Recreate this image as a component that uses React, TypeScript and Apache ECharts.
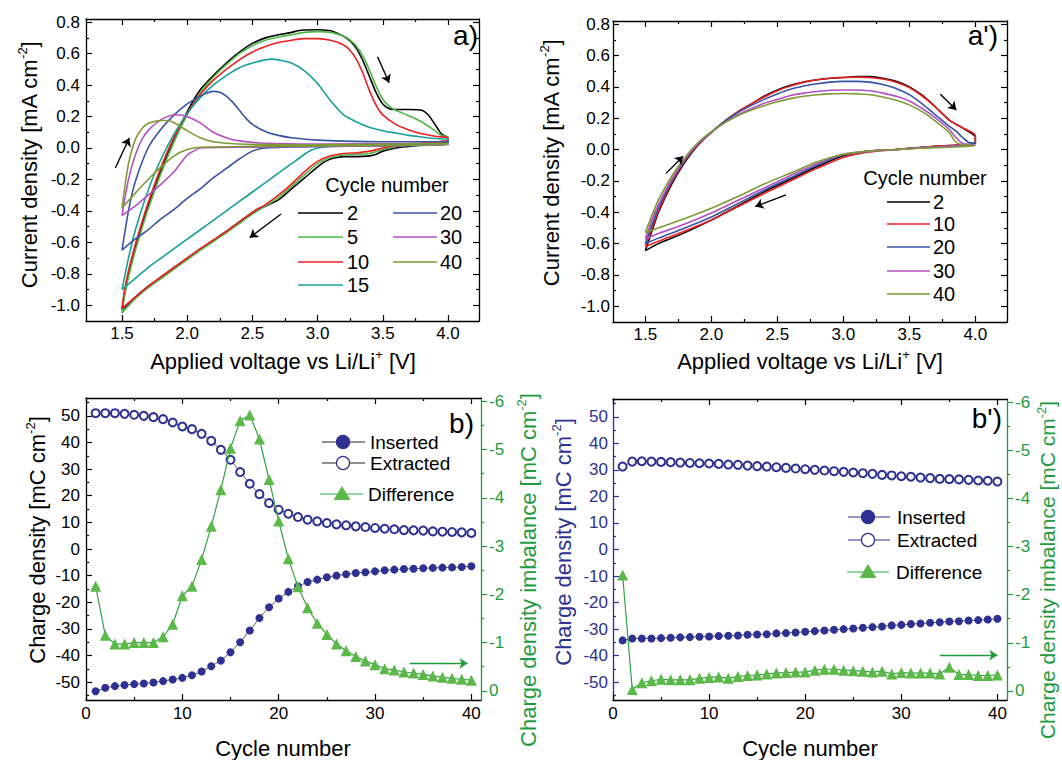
import { useEffect, useRef } from "react";
import * as echarts from "echarts";

const FONT = "'Liberation Sans', Arial, Helvetica, sans-serif";
const NAVY = "#2e3192";
const GREEN = "#5cb848";
const GREEN_AXIS = "#1f9b3d";

// ---------- a) cyclic voltammograms: [voltage V vs Li/Li+, current density mA cm^-2] ----------
const cvA2: number[][] = [
  [1.5, -1.03], [1.52, -0.92], [1.55, -0.8], [1.6, -0.64], [1.65, -0.5], [1.7, -0.37], [1.8, -0.14], [1.9, 0.06],
  [2.0, 0.23], [2.1, 0.37], [2.2, 0.46], [2.3, 0.54], [2.4, 0.61], [2.5, 0.665], [2.6, 0.7], [2.7, 0.72],
  [2.8, 0.735], [2.85, 0.745], [2.9, 0.75], [3.0, 0.752], [3.1, 0.745], [3.15, 0.73], [3.2, 0.71], [3.25, 0.68],
  [3.3, 0.63], [3.35, 0.55], [3.4, 0.45], [3.45, 0.35], [3.5, 0.28], [3.55, 0.25], [3.6, 0.245], [3.7, 0.245],
  [3.8, 0.24], [3.85, 0.21], [3.9, 0.15], [3.95, 0.09], [4.0, 0.06],
  [4.0, 0.04], [3.9, 0.03], [3.8, 0.02], [3.7, 0.01], [3.6, 0.0], [3.5, -0.02], [3.45, -0.04], [3.4, -0.05],
  [3.3, -0.055], [3.2, -0.055], [3.15, -0.06], [3.1, -0.07], [3.05, -0.09], [3.0, -0.12], [2.9, -0.19], [2.8, -0.26],
  [2.7, -0.33], [2.6, -0.37], [2.55, -0.385], [2.5, -0.41], [2.4, -0.47], [2.3, -0.53], [2.2, -0.59], [2.1, -0.645],
  [2.0, -0.7], [1.9, -0.76], [1.8, -0.82], [1.7, -0.88], [1.6, -0.95], [1.5, -1.03],
];
const cvA5: number[][] = [
  [1.5, -1.05], [1.52, -0.94], [1.55, -0.82], [1.6, -0.66], [1.65, -0.52], [1.7, -0.39], [1.8, -0.16], [1.9, 0.04],
  [2.0, 0.21], [2.1, 0.35], [2.2, 0.45], [2.3, 0.53], [2.4, 0.6], [2.5, 0.65], [2.6, 0.685], [2.7, 0.705],
  [2.8, 0.72], [2.9, 0.735], [3.0, 0.74], [3.1, 0.735], [3.2, 0.71], [3.25, 0.685], [3.3, 0.645], [3.35, 0.58],
  [3.4, 0.49], [3.45, 0.39], [3.5, 0.31], [3.55, 0.265], [3.6, 0.24], [3.7, 0.205], [3.8, 0.165], [3.9, 0.11],
  [3.95, 0.08], [4.0, 0.07],
  [4.0, 0.05], [3.8, 0.03], [3.6, 0.01], [3.5, -0.01], [3.4, -0.035], [3.3, -0.04], [3.2, -0.045], [3.1, -0.06],
  [3.0, -0.1], [2.9, -0.17], [2.8, -0.245], [2.7, -0.315], [2.6, -0.37], [2.5, -0.42], [2.4, -0.48], [2.3, -0.54],
  [2.2, -0.595], [2.1, -0.65], [2.0, -0.71], [1.9, -0.77], [1.8, -0.83], [1.7, -0.89], [1.6, -0.96], [1.5, -1.05],
];
const cvA10: number[][] = [
  [1.5, -1.02], [1.52, -0.9], [1.55, -0.78], [1.6, -0.62], [1.65, -0.48], [1.7, -0.35], [1.8, -0.12], [1.9, 0.07],
  [2.0, 0.22], [2.1, 0.34], [2.2, 0.43], [2.3, 0.5], [2.4, 0.56], [2.5, 0.61], [2.6, 0.645], [2.7, 0.67],
  [2.8, 0.685], [2.9, 0.695], [3.0, 0.695], [3.1, 0.685], [3.2, 0.655], [3.25, 0.62], [3.3, 0.56], [3.35, 0.47],
  [3.4, 0.36], [3.45, 0.27], [3.5, 0.21], [3.6, 0.15], [3.7, 0.115], [3.8, 0.09], [3.9, 0.075], [4.0, 0.065],
  [4.0, 0.05], [3.8, 0.03], [3.6, 0.015], [3.5, 0.0], [3.4, -0.02], [3.3, -0.03], [3.2, -0.035], [3.1, -0.05],
  [3.0, -0.085], [2.9, -0.15], [2.8, -0.23], [2.7, -0.3], [2.6, -0.36], [2.5, -0.41], [2.4, -0.47], [2.3, -0.53],
  [2.2, -0.585], [2.1, -0.64], [2.0, -0.7], [1.9, -0.76], [1.8, -0.82], [1.7, -0.88], [1.6, -0.95], [1.5, -1.02],
];
const cvA15: number[][] = [
  [1.5, -0.9], [1.55, -0.7], [1.6, -0.53], [1.7, -0.27], [1.8, -0.07], [1.9, 0.09], [2.0, 0.22], [2.1, 0.32],
  [2.2, 0.4], [2.3, 0.46], [2.4, 0.51], [2.5, 0.54], [2.6, 0.56], [2.65, 0.565], [2.7, 0.56], [2.8, 0.54],
  [2.9, 0.49], [3.0, 0.41], [3.1, 0.3], [3.2, 0.21], [3.3, 0.165], [3.4, 0.13], [3.5, 0.11], [3.6, 0.095],
  [3.7, 0.08], [3.8, 0.07], [3.9, 0.06], [4.0, 0.055],
  [4.0, 0.03], [3.5, 0.02], [3.1, 0.01], [3.0, 0.0], [2.95, -0.015], [2.9, -0.04], [2.8, -0.1], [2.7, -0.16],
  [2.6, -0.22], [2.5, -0.28], [2.4, -0.34], [2.3, -0.4], [2.2, -0.46], [2.1, -0.52], [2.0, -0.58], [1.9, -0.64],
  [1.8, -0.7], [1.7, -0.76], [1.6, -0.83], [1.5, -0.9],
];
const cvA20: number[][] = [
  [1.5, -0.65], [1.55, -0.4], [1.6, -0.22], [1.7, 0.0], [1.8, 0.12], [1.9, 0.21], [2.0, 0.28], [2.1, 0.33],
  [2.15, 0.35], [2.2, 0.36], [2.25, 0.355], [2.3, 0.33], [2.35, 0.29], [2.4, 0.24], [2.45, 0.19], [2.5, 0.15],
  [2.6, 0.105], [2.7, 0.08], [2.8, 0.065], [3.0, 0.05], [3.5, 0.04], [4.0, 0.04],
  [4.0, 0.02], [3.0, 0.01], [2.6, 0.0], [2.5, -0.02], [2.4, -0.07], [2.3, -0.13], [2.2, -0.19], [2.1, -0.26],
  [2.0, -0.32], [1.9, -0.39], [1.8, -0.45], [1.7, -0.52], [1.6, -0.58], [1.5, -0.65],
];
const cvA30: number[][] = [
  [1.5, -0.43], [1.55, -0.2], [1.6, -0.05], [1.65, 0.05], [1.7, 0.11], [1.8, 0.18], [1.9, 0.21], [1.95, 0.21],
  [2.0, 0.2], [2.1, 0.16], [2.2, 0.1], [2.3, 0.065], [2.4, 0.045], [2.6, 0.03], [3.0, 0.025], [4.0, 0.03],
  [4.0, 0.02], [2.5, 0.005], [2.1, 0.0], [2.05, -0.02], [2.0, -0.045], [1.9, -0.15], [1.8, -0.23], [1.7, -0.3],
  [1.6, -0.37], [1.5, -0.43],
];
const cvA40: number[][] = [
  [1.5, -0.38], [1.55, -0.1], [1.6, 0.05], [1.65, 0.12], [1.7, 0.155], [1.8, 0.175], [1.85, 0.175], [1.9, 0.16],
  [2.0, 0.11], [2.1, 0.065], [2.2, 0.04], [2.4, 0.025], [3.0, 0.02], [4.0, 0.03],
  [4.0, 0.02], [2.5, 0.01], [2.1, 0.005], [2.0, -0.01], [1.9, -0.05], [1.8, -0.12], [1.7, -0.2], [1.6, -0.29],
  [1.5, -0.38],
];

// ---------- a') cyclic voltammograms ----------
const cvB2: number[][] = [
  [1.5, -0.645], [1.55, -0.52], [1.6, -0.4], [1.7, -0.22], [1.8, -0.08], [1.9, 0.03], [2.0, 0.11], [2.1, 0.18],
  [2.2, 0.24], [2.3, 0.29], [2.4, 0.34], [2.5, 0.38], [2.6, 0.41], [2.7, 0.43], [2.8, 0.445], [2.9, 0.455],
  [3.0, 0.46], [3.1, 0.465], [3.2, 0.465], [3.3, 0.455], [3.4, 0.435], [3.5, 0.4], [3.6, 0.345], [3.7, 0.27],
  [3.8, 0.19], [3.9, 0.14], [3.95, 0.115], [4.0, 0.08],
  [4.0, 0.04], [3.9, 0.03], [3.8, 0.025], [3.6, 0.015], [3.4, 0.0], [3.2, -0.01], [3.0, -0.04], [2.8, -0.11],
  [2.6, -0.19], [2.4, -0.27], [2.2, -0.36], [2.0, -0.45], [1.8, -0.53], [1.6, -0.6], [1.5, -0.645],
];
const cvB10: number[][] = [
  [1.5, -0.62], [1.55, -0.5], [1.6, -0.39], [1.7, -0.21], [1.8, -0.07], [1.9, 0.03], [2.0, 0.11], [2.1, 0.18],
  [2.2, 0.24], [2.3, 0.29], [2.4, 0.335], [2.5, 0.375], [2.6, 0.405], [2.7, 0.43], [2.8, 0.445], [2.9, 0.455],
  [3.0, 0.46], [3.1, 0.462], [3.2, 0.46], [3.3, 0.45], [3.4, 0.43], [3.5, 0.395], [3.6, 0.34], [3.7, 0.27],
  [3.8, 0.19], [3.9, 0.14], [3.95, 0.12], [4.0, 0.09],
  [4.0, 0.04], [3.9, 0.03], [3.6, 0.015], [3.4, 0.0], [3.2, -0.015], [3.0, -0.05], [2.8, -0.12], [2.6, -0.2],
  [2.4, -0.28], [2.2, -0.365], [2.0, -0.45], [1.8, -0.52], [1.6, -0.585], [1.5, -0.62],
];
const cvB20: number[][] = [
  [1.5, -0.6], [1.55, -0.48], [1.6, -0.37], [1.7, -0.2], [1.8, -0.065], [1.9, 0.035], [2.0, 0.11], [2.1, 0.18],
  [2.2, 0.235], [2.3, 0.28], [2.4, 0.32], [2.5, 0.355], [2.6, 0.385], [2.7, 0.405], [2.8, 0.42], [2.9, 0.43],
  [3.0, 0.435], [3.1, 0.435], [3.2, 0.43], [3.3, 0.415], [3.4, 0.39], [3.5, 0.35], [3.6, 0.29], [3.7, 0.22],
  [3.8, 0.15], [3.85, 0.12], [3.9, 0.08], [3.95, 0.045], [4.0, 0.04],
  [3.8, 0.02], [3.6, 0.012], [3.4, 0.0], [3.2, -0.01], [3.0, -0.035], [2.8, -0.1], [2.6, -0.18], [2.4, -0.26],
  [2.2, -0.345], [2.0, -0.43], [1.8, -0.5], [1.6, -0.565], [1.5, -0.6],
];
const cvB30: number[][] = [
  [1.5, -0.57], [1.55, -0.45], [1.6, -0.35], [1.7, -0.19], [1.8, -0.06], [1.9, 0.04], [2.0, 0.11], [2.1, 0.17],
  [2.2, 0.22], [2.3, 0.26], [2.4, 0.295], [2.5, 0.32], [2.6, 0.345], [2.7, 0.36], [2.8, 0.37], [2.9, 0.378],
  [3.0, 0.38], [3.1, 0.38], [3.2, 0.375], [3.3, 0.36], [3.4, 0.34], [3.5, 0.31], [3.6, 0.26], [3.7, 0.2],
  [3.8, 0.13], [3.85, 0.08], [3.9, 0.04], [3.95, 0.03], [4.0, 0.03],
  [3.8, 0.02], [3.6, 0.012], [3.4, 0.0], [3.2, -0.01], [3.0, -0.03], [2.8, -0.09], [2.6, -0.165], [2.4, -0.245],
  [2.2, -0.325], [2.0, -0.405], [1.8, -0.475], [1.6, -0.535], [1.5, -0.57],
];
const cvB40: number[][] = [
  [1.5, -0.53], [1.55, -0.42], [1.6, -0.32], [1.7, -0.17], [1.8, -0.05], [1.9, 0.045], [2.0, 0.115], [2.1, 0.17],
  [2.2, 0.215], [2.3, 0.25], [2.4, 0.28], [2.5, 0.305], [2.6, 0.325], [2.7, 0.34], [2.8, 0.35], [2.9, 0.355],
  [3.0, 0.358], [3.1, 0.355], [3.2, 0.35], [3.3, 0.335], [3.4, 0.315], [3.5, 0.285], [3.6, 0.24], [3.7, 0.18],
  [3.8, 0.11], [3.85, 0.05], [3.9, 0.03], [4.0, 0.025],
  [3.8, 0.015], [3.6, 0.01], [3.4, 0.0], [3.2, -0.01], [3.0, -0.03], [2.8, -0.08], [2.6, -0.15], [2.4, -0.22],
  [2.2, -0.3], [2.0, -0.375], [1.8, -0.44], [1.6, -0.5], [1.5, -0.53],
];

// ---------- b), b') charge per cycle ----------
const cycles = [
  1, 2, 3, 4, 5, 6, 7, 8, 9, 10, 11, 12, 13, 14, 15, 16, 17, 18, 19, 20,
  21, 22, 23, 24, 25, 26, 27, 28, 29, 30, 31, 32, 33, 34, 35, 36, 37, 38, 39, 40,
];
const insertedB = [
  -53.4, -52.1, -51.5, -51.1, -50.75, -50.5, -50.1, -49.6, -49, -48.4, -47.4, -46, -44, -41.9, -38.75, -35, -30.6, -25.9, -21.9, -18.6,
  -16.1, -14, -12.4, -11.5, -10.6, -10, -9.5, -9, -8.75, -8.4, -8, -7.75, -7.5, -7.4, -7.25, -7.1, -7, -6.9, -6.75, -6.5,
];
const extractedB = [
  51, 51, 51, 50.75, 50.4, 50, 49.5, 48.75, 47.5, 46, 45, 43.25, 40.6, 37.25, 33.5, 28.9, 24.5, 20.6, 17.25, 14.75,
  13.25, 12, 11, 10.4, 9.75, 9.25, 8.9, 8.5, 8.25, 7.9, 7.6, 7.4, 7.1, 7, 6.9, 6.6, 6.5, 6.4, 6.25, 6,
];
const differenceB = [
  -2.17, -1.15, -0.97, -0.97, -1.0, -1.0, -1.0, -1.12, -1.38, -1.97, -2.17, -2.72, -3.41, -4.17, -5.03, -5.6, -5.72, -5.22, -4.38, -3.52,
  -2.74, -2.16, -1.72, -1.4, -1.17, -0.97, -0.83, -0.71, -0.62, -0.54, -0.46, -0.43, -0.39, -0.37, -0.34, -0.31, -0.28, -0.26, -0.24, -0.22,
];
const insertedB2 = [
  -34.25, -33.5, -33.5, -33.5, -33.4, -33.25, -33.1, -33, -32.9, -32.75, -32.6, -32.5, -32.4, -32.1, -32, -31.9, -31.6, -31.5, -31.25, -31,
  -30.75, -30.5, -30.25, -30, -29.75, -29.5, -29.25, -29, -28.6, -28.4, -28.1, -27.9, -27.6, -27.4, -27.1, -27, -26.75, -26.6, -26.4, -26.1,
];
const extractedB2 = [
  31.25, 33.1, 33.25, 33.1, 33, 32.9, 32.75, 32.6, 32.5, 32.4, 32.25, 32, 31.9, 31.6, 31.4, 31.25, 31, 30.75, 30.5, 30.25,
  30, 29.75, 29.5, 29.25, 29, 28.75, 28.5, 28.1, 27.9, 27.6, 27.4, 27.1, 26.9, 26.6, 26.5, 26.4, 26.25, 26, 25.9, 25.6,
];
const differenceB2 = [
  -2.41, -0.03, -0.17, -0.21, -0.24, -0.23, -0.23, -0.23, -0.26, -0.28, -0.29, -0.26, -0.3, -0.32, -0.33, -0.35, -0.37, -0.38, -0.39, -0.39,
  -0.43, -0.45, -0.45, -0.43, -0.42, -0.41, -0.39, -0.41, -0.35, -0.38, -0.37, -0.37, -0.37, -0.35, -0.49, -0.34, -0.34, -0.32, -0.32, -0.33,
];

// ---------- tick values ----------
const voltTicks = [1.5, 2.0, 2.5, 3.0, 3.5, 4.0];
const voltMinor = [1.75, 2.25, 2.75, 3.25, 3.75];
const currentTicks = [-1.0, -0.8, -0.6, -0.4, -0.2, 0.0, 0.2, 0.4, 0.6, 0.8];
const currentMinor = [-0.9, -0.7, -0.5, -0.3, -0.1, 0.1, 0.3, 0.5, 0.7];
const cycleTicks = [0, 10, 20, 30, 40];
const cycleMinor = [5, 15, 25, 35];
const chargeTicks = [-50, -40, -30, -20, -10, 0, 10, 20, 30, 40, 50];
const chargeMinor = [-55, -45, -35, -25, -15, -5, 5, 15, 25, 35, 45, 55];
const imbalanceTicks = [-6, -5, -4, -3, -2, -1, 0];
const imbalanceMinor = [-5.5, -4.5, -3.5, -2.5, -1.5, -0.5];

// sweep-direction arrows, in data coordinates
const arrowsA = [
  [[1.449, -0.127], [1.556, 0.063]],
  [[3.46, 0.58], [3.549, 0.415]],
  [[2.72, -0.42], [2.48, -0.57]],
];
const arrowsA2 = [
  [[1.657, -0.152], [1.786, -0.042]],
  [[3.735, 0.353], [3.856, 0.253]],
  [[2.566, -0.289], [2.333, -0.363]],
];
const arrowB = [[33.6, -0.57], [39.6, -0.57]];
const arrowB2 = [[34.0, -0.745], [40.0, -0.745]];

type AxisOpt = {
  grid: number; min: number; max: number; position: string; values: number[];
  len: number; color: string; inside: boolean; line: boolean; labels?: boolean;
  fmt?: (v: number) => string; margin?: number; inverse?: boolean;
};

function makeAxis(o: AxisOpt) {
  return {
    type: "value",
    gridIndex: o.grid,
    min: o.min,
    max: o.max,
    position: o.position,
    inverse: !!o.inverse,
    splitLine: { show: false },
    minorTick: { show: false },
    axisLine: { show: o.line, onZero: false, lineStyle: { color: o.color, width: 1.3 } },
    axisTick: { show: true, inside: o.inside, length: o.len, customValues: o.values, lineStyle: { color: o.color, width: 1.2 } },
    axisLabel: o.labels
      ? { show: true, customValues: o.values, formatter: o.fmt, color: o.color, fontSize: 17, fontFamily: FONT, margin: o.margin ?? 6 }
      : { show: false },
  };
}

type Side = {
  min: number; max: number; majors: number[]; minors: number[]; color: string;
  labels: boolean; fmt?: (v: number) => string; margin?: number; inverse?: boolean; outside?: boolean;
};

function frame(xAxes: any[], yAxes: any[], grid: number, x: Side, yl: Side, yr: Side) {
  const push = (list: any[], a: any) => { list.push(a); return list.length - 1; };
  const xi = push(xAxes, makeAxis({ grid, min: x.min, max: x.max, position: "bottom", values: x.majors, len: 6, color: x.color, inside: true, line: true, labels: true, fmt: x.fmt, margin: x.margin }));
  push(xAxes, makeAxis({ grid, min: x.min, max: x.max, position: "bottom", values: x.minors, len: 3, color: x.color, inside: true, line: false }));
  push(xAxes, makeAxis({ grid, min: x.min, max: x.max, position: "top", values: x.majors, len: 6, color: "#000", inside: true, line: true }));
  push(xAxes, makeAxis({ grid, min: x.min, max: x.max, position: "top", values: x.minors, len: 3, color: "#000", inside: true, line: false }));
  const yli = push(yAxes, makeAxis({ grid, min: yl.min, max: yl.max, position: "left", values: yl.majors, len: 6, color: yl.color, inside: true, line: true, labels: true, fmt: yl.fmt, margin: yl.margin }));
  push(yAxes, makeAxis({ grid, min: yl.min, max: yl.max, position: "left", values: yl.minors, len: 3, color: yl.color, inside: true, line: false }));
  const yri = push(yAxes, makeAxis({ grid, min: yr.min, max: yr.max, position: "right", values: yr.majors, len: 6, color: yr.color, inside: !yr.outside, line: true, labels: yr.labels, fmt: yr.fmt, margin: yr.margin, inverse: yr.inverse }));
  push(yAxes, makeAxis({ grid, min: yr.min, max: yr.max, position: "right", values: yr.minors, len: 3, color: yr.color, inside: !yr.outside, line: false, inverse: yr.inverse }));
  return { x: xi, yl: yli, yr: yri };
}

const f1 = (v: number) => v.toFixed(1);
const f0 = (v: number) => String(Math.round(v));

function arrowMarks(list: number[][][], color: string) {
  return {
    silent: true,
    animation: false,
    symbol: ["none", "arrow"],
    symbolSize: 8,
    label: { show: false },
    emphasis: { disabled: true },
    lineStyle: { color, width: 1.4, type: "solid" },
    data: list.map(([a, b]) => [{ coord: a }, { coord: b }]),
  };
}

function cvSeries(ax: any, data: number[][], color: string, extra: any = {}) {
  return {
    type: "line", xAxisIndex: ax.x, yAxisIndex: ax.yl, data, symbol: "none", smooth: 0.25,
    lineStyle: { color, width: 1.6 }, silent: true, ...extra,
  };
}

function richTitle(x: number, y: number, main: string, sup: string, tail: string, color: string, vertical: boolean, size = 22) {
  return {
    type: "text", x, y, rotation: vertical ? Math.PI / 2 : 0, z: 100, silent: true,
    style: {
      text: `{n|${main}}{s|${sup}}{n|${tail}}`,
      align: "center", verticalAlign: "middle",
      rich: {
        n: { fontSize: size, fontFamily: FONT, fill: color, lineHeight: size + 4 },
        s: { fontSize: 13, fontFamily: FONT, fill: color, lineHeight: 14, verticalAlign: "top" },
      },
    },
  };
}

function text(x: number, y: number, s: string, size: number, color = "#000", align = "left") {
  return { type: "text", x, y, z: 100, silent: true, style: { text: s, fontSize: size, fontFamily: FONT, fill: color, align, verticalAlign: "middle" } };
}
function seg(x1: number, x2: number, y: number, color: string, w = 1.6) {
  return { type: "line", z: 100, silent: true, shape: { x1, y1: y, x2, y2: y }, style: { stroke: color, lineWidth: w } };
}
function dot(cx: number, cy: number, r: number, fill: string, stroke: string) {
  return { type: "circle", z: 101, silent: true, shape: { cx, cy, r }, style: { fill, stroke, lineWidth: 1.3 } };
}
function tri(cx: number, cy: number, w: number, h: number, fill: string) {
  return { type: "polygon", z: 101, silent: true, shape: { points: [[cx, cy - h / 2], [cx + w / 2, cy + h / 2], [cx - w / 2, cy + h / 2]] }, style: { fill } };
}

function buildOption() {
  const xAxes: any[] = [];
  const yAxes: any[] = [];
  const grids = [
    { left: 86, top: 19, width: 393, height: 302 },
    { left: 613, top: 21, width: 394, height: 301 },
    { left: 86, top: 398, width: 395, height: 302 },
    { left: 613, top: 399, width: 394, height: 301 },
  ];

  const volt = (min: number, max: number, margin: number): Side => ({ min, max, majors: voltTicks, minors: voltMinor, color: "#000", labels: true, fmt: f1, margin });
  const curr = (margin: number, labels = true): Side => ({ min: -1.1, max: 0.82, majors: currentTicks, minors: currentMinor, color: "#000", labels, fmt: f1, margin });
  const cyc: Side = { min: 0, max: 41, majors: cycleTicks, minors: cycleMinor, color: "#000", labels: true, fmt: f0, margin: 5 };
  const charge = (color: string, margin: number): Side => ({ min: -56.7, max: 56.7, majors: chargeTicks, minors: chargeMinor, color, labels: true, fmt: f0, margin });
  const imb: Side = { min: -6.07, max: 0.19, majors: imbalanceTicks, minors: imbalanceMinor, color: GREEN_AXIS, labels: true, fmt: f0, margin: 8, inverse: true, outside: true };

  const A = frame(xAxes, yAxes, 0, volt(1.224, 4.238, 4), curr(6), curr(6, false));
  const A2 = frame(xAxes, yAxes, 1, volt(1.255, 4.24, 4), curr(3), curr(3, false));
  const B = frame(xAxes, yAxes, 2, cyc, charge("#000", 6), imb);
  const B2 = frame(xAxes, yAxes, 3, cyc, charge(NAVY, 5), imb);

  const cvColors = { c2: "#000000", c5: "#4db848", c10: "#ed2024", c15: "#17a09a", c20: "#3853a4", c30: "#b450c2", c40: "#7d9a35" };

  const charges = (ax: any, ins: number[], ext: number[], diff: number[], arrow: number[][], insLine: string) => [
    {
      type: "line", name: "Inserted", xAxisIndex: ax.x, yAxisIndex: ax.yl, silent: true,
      data: cycles.map((c, i) => [c, ins[i]]), symbol: "circle", symbolSize: 8,
      itemStyle: { color: NAVY }, lineStyle: { color: insLine, width: 0.8 }, z: 3,
    },
    {
      type: "line", name: "Extracted", xAxisIndex: ax.x, yAxisIndex: ax.yl, silent: true,
      data: cycles.map((c, i) => [c, ext[i]]), symbol: "emptyCircle", symbolSize: 8,
      itemStyle: { color: NAVY, borderWidth: 1 }, lineStyle: { color: insLine, width: 0.8 }, z: 3,
    },
    {
      type: "line", name: "Difference", xAxisIndex: ax.x, yAxisIndex: ax.yr, silent: true,
      data: cycles.map((c, i) => [c, diff[i]]), symbol: "triangle", symbolSize: 11,
      itemStyle: { color: GREEN }, lineStyle: { color: "#2fa344", width: 1.2 }, z: 4,
      markLine: arrowMarks([arrow], GREEN_AXIS),
    },
  ];

  const series: any[] = [
    cvSeries(A, cvA2, cvColors.c2, { markLine: arrowMarks(arrowsA, "#000") }),
    cvSeries(A, cvA5, cvColors.c5),
    cvSeries(A, cvA10, cvColors.c10),
    cvSeries(A, cvA15, cvColors.c15),
    cvSeries(A, cvA20, cvColors.c20),
    cvSeries(A, cvA30, cvColors.c30),
    cvSeries(A, cvA40, cvColors.c40),
    cvSeries(A2, cvB2, cvColors.c2, { markLine: arrowMarks(arrowsA2, "#000") }),
    cvSeries(A2, cvB10, cvColors.c10),
    cvSeries(A2, cvB20, cvColors.c20),
    cvSeries(A2, cvB30, cvColors.c30),
    cvSeries(A2, cvB40, cvColors.c40),
    ...charges(B, insertedB, extractedB, differenceB, arrowB, "#333"),
    ...charges(B2, insertedB2, extractedB2, differenceB2, arrowB2, "#333"),
  ];

  const graphic: any[] = [
    // axis titles
    richTitle(29, 165, "Current density [mA cm", "-2", "]", "#000", true),
    richTitle(551, 163, "Current density [mA cm", "-2", "]", "#000", true),
    richTitle(283, 361, "Applied voltage vs Li/Li", "+", " [V]", "#000", false),
    richTitle(810, 361, "Applied voltage vs Li/Li", "+", " [V]", "#000", false),
    text(283, 748, "Cycle number", 22, "#000", "center"),
    text(810, 748, "Cycle number", 22, "#000", "center"),
    richTitle(37, 540, "Charge density [mC cm", "-2", "]", "#000", true),
    richTitle(563, 542, "Charge density [mC cm", "-2", "]", NAVY, true),
    richTitle(528, 570, "Charge density imbalance [mC cm", "-2", "]", GREEN_AXIS, true),
    richTitle(1047, 570, "Charge density imbalance [mC cm", "-2", "]", GREEN_AXIS, true, 21),
    // panel tags
    text(478, 35, "a)", 28, "#000", "right"),
    text(998, 35, "a')", 28, "#000", "right"),
    text(474, 423, "b)", 28, "#000", "right"),
    text(1002, 418, "b')", 28, "#000", "right"),
    // legend a)
    text(387, 185, "Cycle number", 20, "#000", "center"),
    seg(298, 343, 213, cvColors.c2), text(347, 213, "2", 20),
    seg(298, 343, 237, cvColors.c5), text(347, 237, "5", 20),
    seg(298, 343, 262, cvColors.c10), text(347, 262, "10", 20),
    seg(298, 343, 285, cvColors.c15), text(347, 285, "15", 20),
    seg(393, 437, 213, cvColors.c20), text(440, 213, "20", 20),
    seg(393, 437, 237, cvColors.c30), text(440, 237, "30", 20),
    seg(393, 437, 262, cvColors.c40), text(440, 262, "40", 20),
    // legend a')
    text(925, 178, "Cycle number", 20, "#000", "center"),
    seg(887, 930, 202, cvColors.c2), text(933, 202, "2", 20),
    seg(887, 930, 224, cvColors.c10), text(933, 224, "10", 20),
    seg(887, 930, 247, cvColors.c20), text(933, 247, "20", 20),
    seg(887, 930, 271, cvColors.c30), text(933, 271, "30", 20),
    seg(887, 930, 294, cvColors.c40), text(933, 294, "40", 20),
    // legend b)
    seg(322, 365, 442, "#222", 1.2), dot(343, 442, 6.5, NAVY, NAVY), text(370, 442, "Inserted", 19),
    seg(322, 365, 463, "#222", 1.2), dot(343, 463, 6.5, "#fff", NAVY), text(370, 463, "Extracted", 19),
    seg(320, 363, 494, "#2fa344", 1.2), tri(342, 493, 17, 14, GREEN), text(368, 494, "Difference", 19),
    // legend b')
    seg(848, 890, 517, NAVY, 1.2), dot(868, 517, 6.5, NAVY, NAVY), text(897, 517, "Inserted", 19),
    seg(848, 890, 540, NAVY, 1.2), dot(868, 540, 6.5, "#fff", NAVY), text(897, 540, "Extracted", 19),
    seg(847, 889, 572, "#2fa344", 1.2), tri(868, 571, 17, 14, GREEN), text(896, 572, "Difference", 19),
  ];

  return {
    animation: false,
    backgroundColor: "#fff",
    textStyle: { fontFamily: FONT },
    grid: grids,
    xAxis: xAxes,
    yAxis: yAxes,
    series,
    graphic,
  };
}

export default function App() {
  const ref = useRef<HTMLDivElement>(null);
  useEffect(() => {
    if (!ref.current) return;
    const chart = echarts.init(ref.current, undefined, { renderer: "svg" });
    chart.setOption(buildOption() as any);
    return () => chart.dispose();
  }, []);
  return (
    <div
      ref={ref}
      style={{ position: "fixed", left: 0, top: 0, width: 1062, height: 760, background: "#fff" }}
    />
  );
}
